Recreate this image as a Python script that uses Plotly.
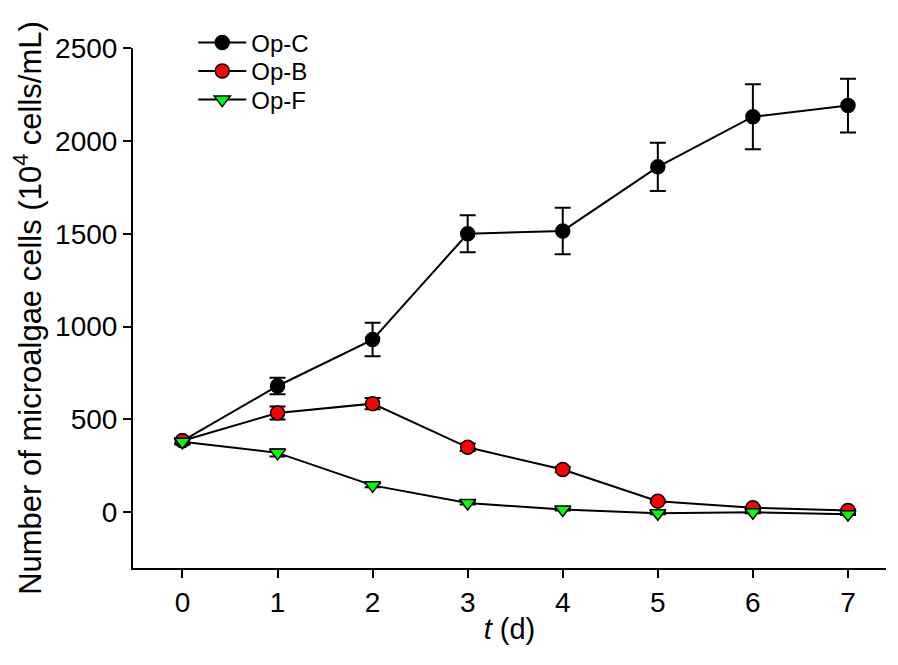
import plotly.graph_objects as go

days = [0, 1, 2, 3, 4, 5, 6, 7]
op_c = [385, 680, 930, 1500, 1515, 1860, 2130, 2190]
op_c_err = [15, 45, 90, 100, 125, 130, 175, 145]
op_b = [385, 535, 585, 350, 230, 60, 25, 10]
op_b_err = [15, 35, 30, 20, 15, 8, 5, 5]
op_f = [380, 320, 145, 50, 15, -5, 0, -10]
op_f_err = [15, 20, 10, 8, 5, 5, 5, 5]

y_ticks = [0, 500, 1000, 1500, 2000, 2500]

series = [
    ("Op-C", op_c, op_c_err, "circle", "black", "legend"),
    ("Op-B", op_b, op_b_err, "circle", "#ff0000", "legend2"),
    ("Op-F", op_f, op_f_err, "triangle-down", "#00ff00", "legend3"),
]

fig = go.Figure()
for name, vals, err, sym, col, lg in series:
    fig.add_trace(go.Scatter(
        x=days, y=vals, name=name, mode="lines+markers", legend=lg,
        line=dict(color="black", width=2),
        marker=dict(symbol=sym, size=14, color=col, line=dict(color="black", width=1.5)),
        error_y=dict(type="data", array=err, visible=True, color="black", thickness=2, width=8),
    ))

font = "Liberation Sans, Arial, sans-serif"
leg_common = dict(x=0.08, xanchor="left", yanchor="middle", bgcolor="rgba(0,0,0,0)",
                  font=dict(size=24), itemwidth=48)
fig.update_layout(
    width=898, height=665,
    margin=dict(l=125, r=20, t=40, b=105),
    plot_bgcolor="white", paper_bgcolor="white",
    font=dict(family=font, size=28, color="black"),
    showlegend=True,
    legend=dict(y=1.01, **leg_common),
    legend2=dict(y=0.955, **leg_common),
    legend3=dict(y=0.90, **leg_common),
    xaxis=dict(range=[-0.52, 7.4], tickvals=days, showline=True, linecolor="black",
               linewidth=2, ticks="outside", ticklen=8, tickwidth=2, tickcolor="black",
               showgrid=False, zeroline=False, tickfont=dict(size=28),
               title=dict(text="<i>t</i> (d)", font=dict(size=29), standoff=2)),
    yaxis=dict(range=[-300, 2500], tickvals=y_ticks, showline=True, linecolor="black",
               linewidth=2, ticks="outside", ticklen=8, tickwidth=2, tickcolor="black",
               showgrid=False, zeroline=False, tickfont=dict(size=28),
               title=dict(text="Number of microalgae cells (10<sup>4</sup> cells/mL)",
                          font=dict(size=31), standoff=9)),
)
fig.write_html("out.html")
